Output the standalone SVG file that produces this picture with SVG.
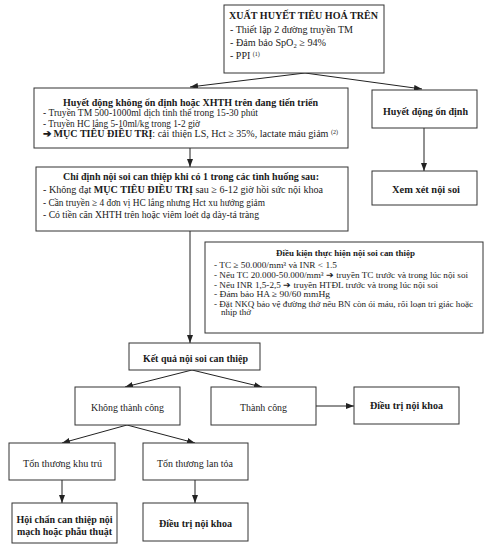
<svg xmlns="http://www.w3.org/2000/svg" width="493" height="550" viewBox="0 0 493 550">
<style>
text{font-family:"Liberation Serif","Times New Roman",serif;fill:#1a1a1a;}
.b{font-weight:bold;}
.box{fill:#fff;stroke:#333;stroke-width:1;}
.tb{font-size:10px;}
.tc{font-size:9px;}
.nl{font-size:9.7px;}
.c{text-anchor:middle;}
.ln{stroke:#222;stroke-width:1;fill:none;}
</style>
<defs>
<marker id="ah" viewBox="0 0 8 6" refX="8" refY="3" markerWidth="8" markerHeight="6" markerUnits="userSpaceOnUse" orient="auto">
<path d="M0,0 L8,3 L0,6 z" fill="#222"/>
</marker>
</defs>
<rect width="493" height="550" fill="#fff"/>
<g id="connectors">
<line class="ln" x1="305" y1="73" x2="190" y2="87" marker-end="url(#ah)"/>
<line class="ln" x1="305" y1="73" x2="422" y2="89" marker-end="url(#ah)"/>
<line class="ln" x1="190" y1="148" x2="190" y2="167" marker-end="url(#ah)"/>
<line class="ln" x1="424" y1="128" x2="424" y2="171" marker-end="url(#ah)"/>
<line class="ln" x1="190" y1="231" x2="190" y2="343" marker-end="url(#ah)"/>
<line class="ln" x1="192" y1="370" x2="125" y2="387" marker-end="url(#ah)"/>
<line class="ln" x1="192" y1="370" x2="262" y2="387" marker-end="url(#ah)"/>
<line class="ln" x1="316" y1="406" x2="354" y2="406" marker-end="url(#ah)"/>
<line class="ln" x1="127" y1="425" x2="62" y2="443" marker-end="url(#ah)"/>
<line class="ln" x1="127" y1="425" x2="195" y2="443" marker-end="url(#ah)"/>
<line class="ln" x1="62" y1="480" x2="62" y2="503" marker-end="url(#ah)"/>
<line class="ln" x1="195" y1="480" x2="195" y2="503" marker-end="url(#ah)"/>
</g>
<g id="n-top">
<rect class="box" x="224" y="5" width="160" height="68"/>
<text class="b" x="229" y="18.5" font-size="10" textLength="149" lengthAdjust="spacingAndGlyphs">XUẤT HUYẾT TIÊU HOÁ TRÊN</text>
<text class="tb" x="230" y="32.5" textLength="123" lengthAdjust="spacingAndGlyphs">- Thiết lập 2 đường truyền TM</text>
<text class="tb" x="230" y="46" textLength="96" lengthAdjust="spacingAndGlyphs">- Đảm bảo SpO<tspan font-size="6.5" dy="2">2</tspan><tspan dy="-2"> ≥ 94%</tspan></text>
<text class="tb" x="230" y="59">- PPI <tspan font-size="6" dy="-3.5">(1)</tspan></text>
</g>
<g id="n-unstable">
<rect class="box" x="34" y="88" width="314" height="60"/>
<text class="b" x="63" y="106" font-size="10" textLength="255" lengthAdjust="spacingAndGlyphs">Huyết động không ổn định hoặc XHTH trên đang tiến triển</text>
<text class="tb" x="43" y="116" textLength="215" lengthAdjust="spacingAndGlyphs">- Truyền TM 500-1000ml dịch tinh thể trong 15-30 phút</text>
<text class="tb" x="43" y="126.5" textLength="157" lengthAdjust="spacingAndGlyphs">- Truyền HC lắng 5-10ml/kg trong 1-2 giờ</text>
<text class="tb" x="43" y="137" textLength="295" lengthAdjust="spacingAndGlyphs"><tspan class="b">➔ MỤC TIÊU ĐIỀU TRỊ</tspan>: cải thiện LS, Hct ≥ 35%, lactate máu giảm <tspan font-size="6" dy="-3.5">(2)</tspan></text>
</g>
<g id="n-stable">
<rect class="box" x="372" y="90" width="105" height="38"/>
<text class="b c nl" x="425.5" y="115" textLength="85" lengthAdjust="spacingAndGlyphs">Huyết động ổn định</text>
</g>
<g id="n-consider">
<rect class="box" x="372" y="171" width="105" height="34"/>
<text class="b c nl" x="426" y="193" textLength="68" lengthAdjust="spacingAndGlyphs">Xem xét nội soi</text>
</g>
<g id="n-indication">
<rect class="box" x="36" y="167" width="312" height="64"/>
<text class="b" x="63" y="180" font-size="10" textLength="256" lengthAdjust="spacingAndGlyphs">Chỉ định nội soi can thiệp khi có 1 trong các tình huống sau:</text>
<text class="tb" x="43" y="193" textLength="280" lengthAdjust="spacingAndGlyphs">- Không đạt <tspan class="b">MỤC TIÊU ĐIỀU TRỊ</tspan> sau ≥ 6-12 giờ hồi sức nội khoa</text>
<text class="tb" x="43" y="206" textLength="222" lengthAdjust="spacingAndGlyphs">- Cần truyền ≥ 4 đơn vị HC lắng nhưng Hct xu hướng giảm</text>
<text class="tb" x="43" y="218" textLength="216" lengthAdjust="spacingAndGlyphs">- Có tiền căn XHTH trên hoặc viêm loét dạ dày-tá tràng</text>
</g>
<g id="n-conditions">
<rect class="box" x="205" y="242" width="278" height="91"/>
<text class="b" x="276" y="256" font-size="9.2" textLength="139" lengthAdjust="spacingAndGlyphs">Điều kiện thực hiện nội soi can thiệp</text>
<text class="tc" x="214" y="268" textLength="123" lengthAdjust="spacingAndGlyphs">- TC ≥ 50.000/mm³ và INR &lt; 1.5</text>
<text class="tc" x="214" y="278" textLength="254" lengthAdjust="spacingAndGlyphs">- Nếu TC 20.000-50.000/mm³ ➔ truyền TC trước và trong lúc nội soi</text>
<text class="tc" x="214" y="287.5" textLength="224" lengthAdjust="spacingAndGlyphs">- Nếu INR 1,5-2,5 ➔ truyền HTĐL trước và trong lúc nội soi</text>
<text class="tc" x="214" y="297" textLength="116" lengthAdjust="spacingAndGlyphs">- Đảm bảo HA ≥ 90/60 mmHg</text>
<text class="tc" x="214" y="306.5" textLength="259" lengthAdjust="spacingAndGlyphs">- Đặt NKQ bảo vệ đường thở nếu BN còn ói máu, rối loạn tri giác hoặc</text>
<text class="tc" x="221" y="315">nhịp thở</text>
</g>
<g id="n-result">
<rect class="box" x="129" y="343" width="131" height="27"/>
<text class="b c nl" x="195.5" y="362" textLength="105" lengthAdjust="spacingAndGlyphs">Kết quả nội soi can thiệp</text>
</g>
<g id="n-fail">
<rect class="box" x="75" y="387" width="105" height="38"/>
<text class="c nl" x="127.5" y="411" textLength="73" lengthAdjust="spacingAndGlyphs">Không thành công</text>
</g>
<g id="n-success">
<rect class="box" x="211" y="387" width="105" height="38"/>
<text class="c nl" x="263.5" y="411" textLength="47" lengthAdjust="spacingAndGlyphs">Thành công</text>
</g>
<g id="n-medical1">
<rect class="box" x="354" y="387" width="105" height="37"/>
<text class="b c nl" x="406.5" y="409" textLength="73" lengthAdjust="spacingAndGlyphs">Điều trị nội khoa</text>
</g>
<g id="n-local">
<rect class="box" x="9" y="443" width="106" height="37"/>
<text class="c nl" x="62.5" y="467" textLength="79" lengthAdjust="spacingAndGlyphs">Tổn thương khu trú</text>
</g>
<g id="n-diffuse">
<rect class="box" x="143" y="443" width="105" height="37"/>
<text class="c nl" x="195" y="467" textLength="76" lengthAdjust="spacingAndGlyphs">Tổn thương lan tỏa</text>
</g>
<g id="n-consult">
<rect class="box" x="12" y="503" width="105" height="40"/>
<text class="b c nl" x="64.5" y="523" textLength="96" lengthAdjust="spacingAndGlyphs">Hội chẩn can thiệp nội</text>
<text class="b c nl" x="64.5" y="535" textLength="95" lengthAdjust="spacingAndGlyphs">mạch hoặc phẫu thuật</text>
</g>
<g id="n-medical2">
<rect class="box" x="143" y="503" width="105" height="38"/>
<text class="b c nl" x="195.5" y="527" textLength="73" lengthAdjust="spacingAndGlyphs">Điều trị nội khoa</text>
</g>
</svg>
